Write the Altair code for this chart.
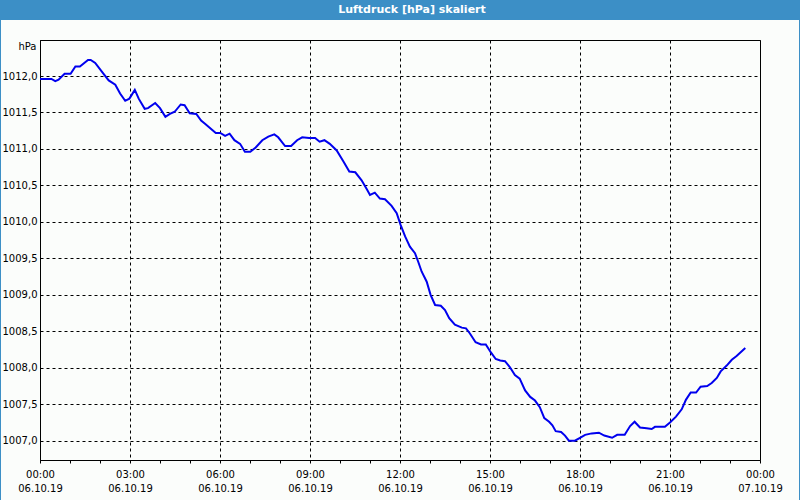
import altair as alt
import pandas as pd

TITLE = "Luftdruck [hPa] skaliert"
UNIT = "hPa"

hours = [0.0, 0.38, 0.51, 0.62, 0.82, 1.02, 1.18, 1.33, 1.6, 1.69,
         1.84, 2.1, 2.29, 2.51, 2.67, 2.84, 2.98, 3.16, 3.29, 3.49,
         3.6, 3.84, 4.0, 4.18, 4.33, 4.49, 4.69, 4.82, 4.99, 5.21,
         5.37, 5.52, 5.86, 6.01, 6.17, 6.32, 6.48, 6.67, 6.83, 7.01,
         7.19, 7.41, 7.61, 7.81, 7.94, 8.17, 8.37, 8.57, 8.74, 8.97,
         9.17, 9.32, 9.48, 9.66, 9.89, 10.11, 10.31, 10.51, 10.72, 10.89,
         11.0, 11.16, 11.33, 11.5, 11.72, 11.89, 12.02, 12.17, 12.33, 12.5,
         12.61, 12.72, 12.89, 13.02, 13.17, 13.36, 13.5, 13.64, 13.83, 14.06,
         14.2, 14.33, 14.52, 14.7, 14.86, 15.03, 15.19, 15.34, 15.5, 15.66,
         15.83, 15.99, 16.17, 16.34, 16.5, 16.66, 16.81, 16.97, 17.08, 17.19,
         17.37, 17.5, 17.63, 17.83, 18.0, 18.17, 18.39, 18.63, 18.81, 19.07,
         19.24, 19.49, 19.67, 19.82, 20.0, 20.22, 20.39, 20.5, 20.83, 21.0,
         21.2, 21.39, 21.53, 21.69, 21.87, 22.02, 22.24, 22.39, 22.56, 22.69,
         22.89, 23.06, 23.22, 23.51]

pressure = [1011.96, 1011.96, 1011.93, 1011.95, 1012.03, 1012.03, 1012.13, 1012.13, 1012.22, 1012.22,
            1012.18, 1012.04, 1011.94, 1011.88, 1011.76, 1011.66, 1011.69, 1011.81, 1011.69, 1011.55,
            1011.56, 1011.63, 1011.56, 1011.44, 1011.48, 1011.51, 1011.61, 1011.60, 1011.49, 1011.48,
            1011.39, 1011.34, 1011.22, 1011.22, 1011.18, 1011.21, 1011.12, 1011.07, 1010.96, 1010.96,
            1011.02, 1011.12, 1011.17, 1011.20, 1011.16, 1011.04, 1011.04, 1011.12, 1011.16, 1011.15,
            1011.15, 1011.10, 1011.12, 1011.07, 1010.98, 1010.83, 1010.69, 1010.68, 1010.57, 1010.45,
            1010.37, 1010.40, 1010.32, 1010.31, 1010.22, 1010.12, 1009.96, 1009.80, 1009.66, 1009.57,
            1009.45, 1009.32, 1009.18, 1009.00, 1008.86, 1008.85, 1008.79, 1008.68, 1008.59, 1008.55,
            1008.54, 1008.47, 1008.35, 1008.32, 1008.32, 1008.21, 1008.12, 1008.10, 1008.09, 1008.01,
            1007.90, 1007.85, 1007.69, 1007.60, 1007.55, 1007.46, 1007.31, 1007.26, 1007.21, 1007.13,
            1007.12, 1007.07, 1007.00, 1007.00, 1007.04, 1007.08, 1007.10, 1007.11, 1007.07, 1007.04,
            1007.08, 1007.08, 1007.20, 1007.26, 1007.18, 1007.17, 1007.16, 1007.19, 1007.19, 1007.25,
            1007.33, 1007.43, 1007.56, 1007.66, 1007.66, 1007.74, 1007.75, 1007.79, 1007.86, 1007.95,
            1008.03, 1008.11, 1008.16, 1008.27]

x_ticks = list(range(0, 25))
y_ticks = [1007.0, 1007.5, 1008.0, 1008.5, 1009.0, 1009.5, 1010.0, 1010.5, 1011.0, 1011.5, 1012.0]
date_day1 = "06.10.19"
date_day2 = "07.10.19"

df = pd.DataFrame({"h": hours, "v": pressure})
FONT = "DejaVu Sans"

x_axis = alt.Axis(
    values=x_ticks,
    title=None,
    grid=True,
    gridColor="black",
    gridDash=[3, 3],
    gridOpacity={"condition": {"test": "datum.value % 3 === 0", "value": 1}, "value": 0},
    ticks=True,
    tickSize=3,
    tickColor="black",
    domainColor="black",
    labelExpr=(
        "datum.value % 3 === 0 ? [format(datum.value % 24, '02d') + ':00', "
        f"datum.value >= 24 ? '{date_day2}' : '{date_day1}'] : ''"
    ),
    labelFlush=False,
    labelOverlap=False,
    labelBound=False,
    labelPadding=6,
    labelLineHeight=14,
    labelBaseline="top",
    labelFont=FONT,
    labelFontSize=10,
    labelColor="black",
)

y_axis = alt.Axis(
    values=y_ticks,
    title=UNIT,
    titleAngle=0,
    titleAlign="right",
    titleBaseline="middle",
    titleX=-4,
    titleY=6,
    titleFont=FONT,
    titleFontSize=10,
    titleFontWeight="normal",
    titleColor="black",
    grid=True,
    gridColor="black",
    gridDash=[3, 3],
    ticks=False,
    domainColor="black",
    labelExpr="replace(format(datum.value, '.1f'), '.', ',')",
    labelPadding=3,
    labelFont=FONT,
    labelFontSize=10,
    labelColor="black",
    labelFlush=False,
    labelOverlap=False,
)

line = alt.Chart(df).mark_line(color="#0000ee", strokeWidth=2).encode(
    x=alt.X("h:Q", scale=alt.Scale(domain=[0, 24], nice=False, zero=False), axis=x_axis),
    y=alt.Y("v:Q", scale=alt.Scale(domain=[1006.735, 1012.494], nice=False, zero=False), axis=y_axis),
)

deco = pd.DataFrame({"t": [TITLE]})
title_bar = alt.Chart(deco).mark_rect(color="#3c8fc6", clip=False).encode(
    x=alt.value(-40), x2=alt.value(760), y=alt.value(-40), y2=alt.value(-20)
)
frame = alt.Chart(deco).mark_rect(fill=None, stroke="#3c8fc6", strokeWidth=2, clip=False).encode(
    x=alt.value(-40), x2=alt.value(760), y=alt.value(-40), y2=alt.value(460 + 40)
)
title_text = alt.Chart(deco).mark_text(
    color="white", font=FONT, fontSize=11, fontWeight="bold", align="center", baseline="middle"
).encode(x=alt.value(372), y=alt.value(-30), text="t:N")

chart = alt.layer(line, title_bar, frame, title_text).properties(
    width=720,
    height=420,
    autosize="none",
    padding={"left": 40, "top": 40, "right": 40, "bottom": 40},
    background="#fbfdfb",
).configure_view(stroke="black", strokeWidth=1)

chart.save("out.html", embed_options={"renderer": "svg", "actions": False})
